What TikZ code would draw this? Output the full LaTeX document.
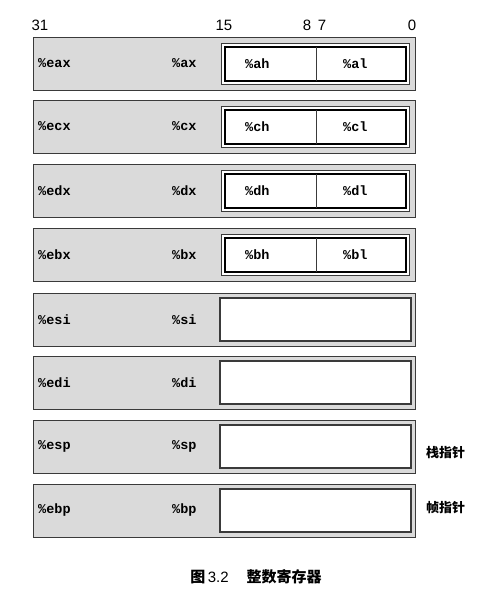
\documentclass[tikz,border=0pt]{standalone}
\usepackage{fontspec}
\setmainfont{Liberation Sans}
\setmonofont{Liberation Mono}
\newfontfamily\cjk{Noto Sans CJK SC}
\definecolor{rowgray}{HTML}{DADADA}
\definecolor{linegray}{HTML}{3A3A3A}
\begin{document}
\begin{tikzpicture}[x=1pt,y=-1pt,
  rowbox/.style={draw=linegray,line width=1pt,fill=rowgray},
  whitebox/.style={draw=linegray,line width=1.1pt,fill=white},
  innerbox/.style={draw=black,line width=1.2pt},
  reg/.style={anchor=west,inner sep=0pt,font=\fontsize{13.5}{13.5}\selectfont\ttfamily\bfseries},
  bitlbl/.style={inner sep=0pt,font=\fontsize{15}{15}\selectfont},
  sidelbl/.style={anchor=west,inner sep=0pt,font=\fontsize{13}{13}\selectfont\cjk\bfseries},
  caplbl/.style={inner sep=0pt,font=\fontsize{15}{15}\selectfont}]
\useasboundingbox[fill=white] (0,0) rectangle (497,590);
% bit labels
\node[bitlbl] (b31) at (40,25) {31};
\node[bitlbl] (b15) at (224,25) {15};
\node[bitlbl] (b8) at (307,25) {8};
\node[bitlbl] (b7) at (322,25) {7};
\node[bitlbl] (b0) at (412,25) {0};
% rows with byte registers
\foreach \t/\e/\x/\h/\l [count=\i] in {37/eax/ax/ah/al,100/ecx/cx/ch/cl,164/edx/dx/dh/dl,228/ebx/bx/bh/bl}{
  \draw[rowbox] (33,\t) rectangle (415,\t+53);
  \draw[whitebox,line width=0.8pt] (221,\t+6) rectangle (409,\t+47);
  \draw[innerbox] (225,\t+10) rectangle (406,\t+44);
  \draw[linegray,line width=0.8pt] (316,\t+10) -- (316,\t+44);
  \node[reg] (e\i) at (38,\t+26.5) {\%\e};
  \node[reg] (x\i) at (172,\t+26.5) {\%\x};
  \node[reg] (h\i) at (245,\t+26.5) {\%\h};
  \node[reg] (l\i) at (343,\t+26.5) {\%\l};
}
% rows without byte registers
\foreach \t/\e/\x [count=\i from 5] in {293/esi/si,356/edi/di,420/esp/sp,484/ebp/bp}{
  \draw[rowbox] (33,\t) rectangle (415,\t+53);
  \draw[whitebox] (220,\t+5) rectangle (411,\t+48);
  \node[reg] (e\i) at (38,\t+26.5) {\%\e};
  \node[reg] (x\i) at (172,\t+26.5) {\%\x};
}
\node[sidelbl] (sp) at (426,453) {栈指针};
\node[sidelbl] (fp) at (426,508) {帧指针};
\node[caplbl] (cap) at (256,577) {{\cjk\bfseries 图}\,3.2\hspace{1.2em}{\cjk\bfseries 整数寄存器}};
\end{tikzpicture}
\end{document}
